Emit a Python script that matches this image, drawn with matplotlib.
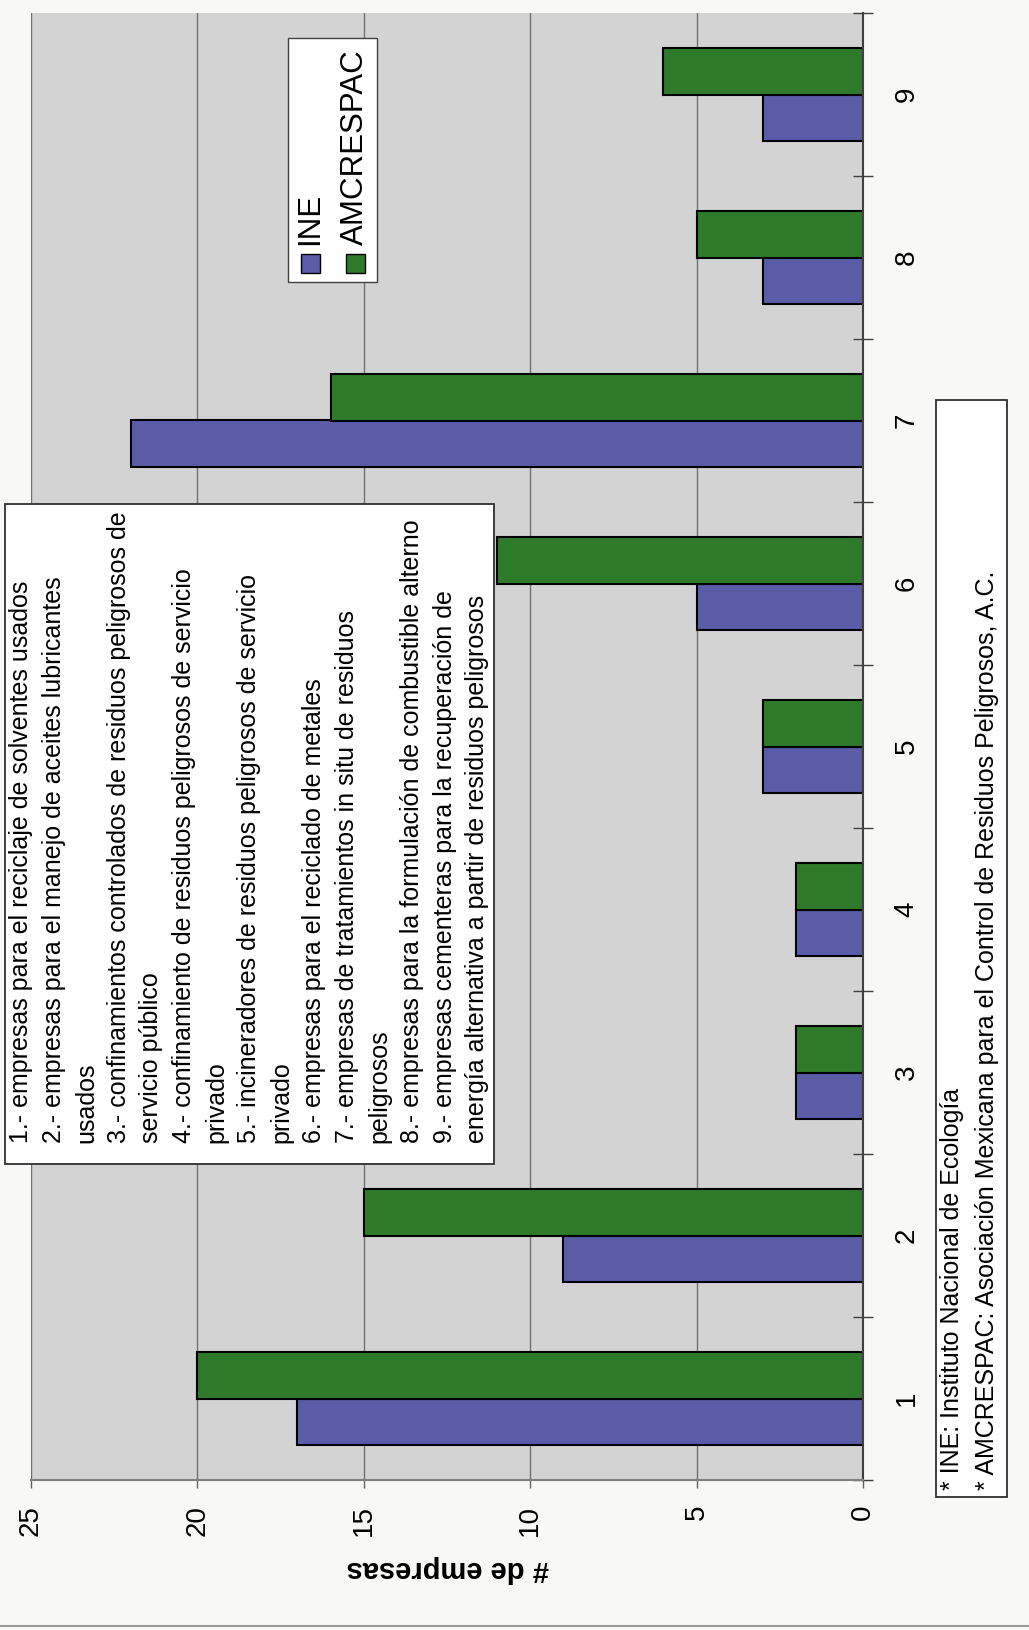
import numpy as np
import matplotlib
matplotlib.use("Agg")
import matplotlib.pyplot as plt
from matplotlib import font_manager
from matplotlib.patches import Rectangle
from matplotlib.lines import Line2D

# Datos (gráfica escaneada, girada 90°)
categorias = [1, 2, 3, 4, 5, 6, 7, 8, 9]
ine = [17, 9, 2, 2, 3, 5, 22, 3, 3]
amcrespac = [20, 15, 2, 2, 3, 11, 16, 5, 6]
series = ["INE", "AMCRESPAC"]
valor_ticks = [0, 5, 10, 15, 20, 25]
eje_label = "# de empresas"

descripciones = [
    "1.- empresas para el reciclaje de solventes usados",
    "2.- empresas para el manejo de aceites lubricantes",
    "usados",
    "3.- confinamientos controlados de residuos peligrosos de",
    "servicio público",
    "4.- confinamiento de residuos peligrosos de servicio",
    "privado",
    "5.- incineradores de residuos peligrosos de servicio",
    "privado",
    "6.- empresas para el reciclado de metales",
    "7.- empresas de tratamientos in situ de residuos",
    "peligrosos",
    "8.- empresas para la formulación de combustible alterno",
    "9.- empresas cementeras para la recuperación de",
    "energía alternativa a partir de residuos peligrosos",
]
notas = [
    "* INE: Instituto Nacional de Ecología",
    "* AMCRESPAC: Asociación Mexicana para el Control de Residuos Peligrosos, A.C.",
]

W, H, DPI = 1029, 1630, 100
AZUL = "#5a5ca8"
VERDE = "#2e7a2a"
GRIS = "#d3d3d3"

plt.rcParams['font.family'] = ['Liberation Sans', 'DejaVu Sans']

# fuente angosta para los recuadros de texto, si existe
nombres = {f.name for f in font_manager.fontManager.ttflist}
if 'Liberation Sans Narrow' in nombres:
    fam_texto, tam_texto = ['Liberation Sans Narrow', 'Liberation Sans'], 21.5
else:
    fam_texto, tam_texto = ['Liberation Sans', 'DejaVu Sans'], 18


def fx(px):
    return px / W


def fy(py):
    return 1 - py / H


fig = plt.figure(figsize=(W / DPI, H / DPI), dpi=DPI, facecolor="#f8f8f6")

ax = fig.add_axes([fx(31), fy(1480), fx(863) - fx(31), fy(13) - fy(1480)])
ax.set_facecolor(GRIS)

ancho = 0.2857
y = np.array(categorias)
ax.barh(y - ancho / 2, ine, height=ancho, color=AZUL, edgecolor="black", linewidth=1.5)
ax.barh(y + ancho / 2, amcrespac, height=ancho, color=VERDE, edgecolor="black", linewidth=1.5)

ax.set_xlim(25, 0)
ax.set_ylim(0.5, 9.5)

ax.set_xticks(valor_ticks)
ax.set_xticklabels([str(v) for v in valor_ticks], rotation=90)
ax.tick_params(axis="x", direction="out", length=6, width=1, pad=12,
               labelsize=20, color="#606060")
ax.grid(axis="x", color="#707070", linewidth=1)
ax.set_axisbelow(True)

ax.yaxis.tick_right()
ax.set_yticks(np.arange(0.5, 10, 1))
ax.set_yticklabels([])
ax.set_yticks(categorias, minor=True)
ax.set_yticklabels([str(c) for c in categorias], minor=True, rotation=90, va="center")
ax.tick_params(axis="y", which="major", direction="inout", length=14, width=1, color="#404040")
ax.tick_params(axis="y", which="minor", length=0, pad=22, labelsize=20)

ax.spines["top"].set_visible(False)
ax.spines["left"].set_visible(False)
ax.spines["right"].set_color("#404040")
ax.spines["right"].set_linewidth(1.5)
ax.spines["bottom"].set_color("#808080")
ax.spines["bottom"].set_linewidth(1.5)

fig.text(fx(448), fy(1569), eje_label, rotation=180, ha="center", va="center",
         fontweight="bold", fontsize=21)

# leyenda de series
fig.add_artist(Rectangle((fx(288), fy(282)), fx(377) - fx(288), fy(38) - fy(282),
                         transform=fig.transFigure, facecolor="white",
                         edgecolor="#404040", linewidth=1))
for nombre, color, xc in zip(series, [AZUL, VERDE], [310, 355]):
    fig.add_artist(Rectangle((fx(xc - 9.5), fy(273)), 19 / W, 19 / H,
                             transform=fig.transFigure, facecolor=color,
                             edgecolor="black", linewidth=1))
    fig.text(fx(xc), fy(245), nombre, rotation=90, rotation_mode="anchor",
             ha="left", va="center", fontsize=22.5)

# recuadro con descripciones
fig.add_artist(Rectangle((fx(5), fy(1164)), fx(494) - fx(5), fy(504) - fy(1164),
                         transform=fig.transFigure, facecolor="white",
                         edgecolor="#303030", linewidth=1.3))
for i, linea in enumerate(descripciones):
    fig.text(fx(21 + i * 32.6), fy(1143), linea, rotation=90, rotation_mode="anchor",
             ha="left", va="center", family=fam_texto, fontsize=tam_texto)

# notas al pie
fig.add_artist(Rectangle((fx(936), fy(1497)), fx(1007) - fx(936), fy(400) - fy(1497),
                         transform=fig.transFigure, facecolor="white",
                         edgecolor="#303030", linewidth=1.3))
for xc, nota in zip([952, 987], notas):
    fig.text(fx(xc), fy(1490), nota, rotation=90, rotation_mode="anchor",
             ha="left", va="center", family=fam_texto, fontsize=tam_texto)

fig.add_artist(Line2D([0, 1], [fy(1626), fy(1626)], transform=fig.transFigure,
                      color="#9a9a9a", linewidth=1.5))

fig.savefig("out.png", dpi=DPI, facecolor=fig.get_facecolor())
